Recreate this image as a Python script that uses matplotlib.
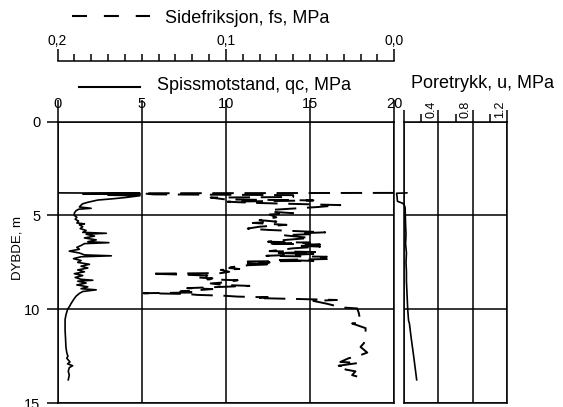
import matplotlib
matplotlib.use("Agg")
import matplotlib.pyplot as plt
import matplotlib.transforms as mtransforms
from matplotlib.lines import Line2D
from matplotlib.ticker import FixedLocator, MultipleLocator, FuncFormatter

plt.rcParams['font.family'] = ['Liberation Sans', 'DejaVu Sans']

# ---------------- data ----------------
qc_depth = [3.80, 3.82, 3.85, 3.88, 3.92, 3.95, 4.05, 4.12, 4.18, 4.22, 4.30, 4.38, 4.45,
            4.55, 4.62, 4.67, 4.75, 4.87,
            5.0, 5.1, 5.2, 5.3, 5.4, 5.45, 5.5, 5.6, 5.7, 5.8, 5.9, 5.95, 6.0, 6.1, 6.2,
            6.3, 6.4, 6.45, 6.5, 6.6, 6.7, 6.8, 6.9, 7.0, 7.1, 7.15, 7.2, 7.3, 7.4, 7.5,
            7.6, 7.7, 7.8, 7.9, 8.0, 8.1, 8.2, 8.3, 8.4, 8.45, 8.5, 8.6, 8.7, 8.8, 8.9,
            8.96, 9.05, 9.15, 9.3,
            9.50, 9.70, 9.80, 10.0, 10.3, 10.55, 11.1, 11.6, 12.0, 12.3, 12.5, 12.6, 12.8,
            12.9, 13.0, 13.1, 13.3, 13.5, 13.75]
qc_value = [0.0, 4.9, 1.5, 4.9, 3.0, 4.9, 4.0, 3.2, 2.4, 2.2, 1.8, 1.5, 1.4,
            1.3, 2.0, 1.25, 1.1, 1.0,
            1.0, 1.15, 1.05, 1.25, 1.15, 1.6, 1.3, 1.5, 1.35, 1.7, 1.5, 2.9, 1.7, 2.2, 1.6,
            2.3, 1.8, 3.05, 1.6, 1.4, 1.15, 1.3, 0.7, 1.3, 1.6, 3.2, 1.4, 0.95, 1.4, 1.2,
            1.9, 1.4, 1.8, 1.2, 1.6, 1.0, 1.5, 1.05, 1.4, 2.1, 1.2, 1.7, 1.15, 1.8, 1.4,
            2.3, 1.5, 1.3, 1.1,
            0.94, 0.8, 0.74, 0.6, 0.5, 0.45, 0.45, 0.48, 0.5, 0.55, 0.62, 0.55, 0.74,
            0.6, 0.9, 0.7, 0.64, 0.7, 0.64]

fs_depth = [3.80, 3.82, 3.88, 3.92, 4.02, 4.05, 4.15, 4.20, 4.27, 4.33, 4.45, 4.55, 4.70,
            4.80, 4.88, 4.95, 5.10, 5.25, 5.33, 5.40, 5.50, 5.60, 5.70, 5.77, 5.90, 5.95,
            6.00, 6.05, 6.20, 6.30, 6.40, 6.45, 6.50, 6.55, 6.62, 6.66, 6.75, 6.90, 6.95,
            7.00, 7.05, 7.15, 7.20, 7.27, 7.32, 7.37, 7.42, 7.45, 7.50, 7.55, 7.60, 7.65,
            7.70, 7.75, 7.80, 7.85, 7.90, 8.00, 8.07, 8.10, 8.16, 8.20, 8.30, 8.35, 8.40,
            8.45, 8.57, 8.62, 8.70, 8.75, 8.87, 8.92, 9.05, 9.10, 9.14, 9.18, 9.23, 9.27,
            9.32, 9.36, 9.40, 9.45, 9.50, 9.55, 9.70, 9.90, 9.95, 10.2, 10.7, 10.75, 11.0,
            11.45, 11.8, 12.0, 12.3, 12.5, 12.6, 12.8, 12.85, 13.0, 13.05, 13.2, 13.3,
            13.5, 13.65, 13.7]
fs_value = [0.0, 0.150, 0.143, 0.060, 0.060, 0.109, 0.100, 0.048, 0.099, 0.084, 0.032, 0.045, 0.072,
            0.074, 0.060, 0.074, 0.070, 0.080, 0.070, 0.084, 0.064, 0.080, 0.087, 0.075, 0.041, 0.056,
            0.050, 0.066, 0.050, 0.064, 0.075, 0.050, 0.076, 0.044, 0.055, 0.044, 0.060, 0.074, 0.046,
            0.070, 0.048, 0.076, 0.040, 0.046, 0.040, 0.068, 0.048, 0.087, 0.074, 0.087, 0.072, 0.087,
            0.090, 0.097, 0.098, 0.092, 0.103, 0.098, 0.103, 0.145, 0.123, 0.111, 0.117, 0.108, 0.111,
            0.093, 0.102, 0.109, 0.102, 0.086, 0.123, 0.108, 0.127, 0.117, 0.149, 0.123, 0.117, 0.102,
            0.093, 0.075, 0.082, 0.056, 0.034, 0.048, 0.040, 0.031, 0.022, 0.021, 0.020, 0.025, 0.017,
            0.017, 0.018, 0.020, 0.016, 0.022, 0.027, 0.032, 0.021, 0.033, 0.027, 0.029, 0.023,
            0.025, 0.019, 0.022]

u_depth = [3.80, 3.82, 4.00, 4.25, 4.35, 4.45, 4.60, 5.0, 5.5, 6.0, 6.5, 7.0, 7.5, 8.0,
           8.5, 9.0, 9.5, 10.0, 10.6, 10.75, 11.5, 12.5, 13.75]
u_value = [0.03, -0.09, -0.085, -0.08, -0.02, 0.0, 0.01, 0.012, 0.015, 0.02, 0.015, 0.025,
           0.02, 0.025, 0.025, 0.03, 0.035, 0.04, 0.05, 0.06, 0.08, 0.11, 0.145]

qc_ticks = [0, 5, 10, 15, 20]
fs_ticks = [0.2, 0.1, 0.0]
u_ticks = [0.0, 0.4, 0.8, 1.2]
u_minor = [0.2, 0.6, 1.0]
u_labels = ['0.4', '0.8', '1.2']
depth_ticks = [0, 5, 10, 15]

# ---------------- layout ----------------
W, H = 563, 407
fig = plt.figure(figsize=(W / 100, H / 100), dpi=100)
fig.patch.set_facecolor('white')


def fx(x):
    return x / W


def fy(y):
    return 1 - y / H


L, R, T, B = 57.5, 394.2, 121.5, 403.3
LW = 1.1
ax = fig.add_axes([fx(L), fy(B), fx(R) - fx(L), fy(T) - fy(B)])
axf = ax.twiny()

ax.set_xlim(0, 20)
ax.set_ylim(15, 0)
ax.set_xticks(qc_ticks)
ax.set_yticks(depth_ticks)
ax.xaxis.set_ticks_position('top')
ax.tick_params(axis='x', which='major', direction='out', top=True, bottom=False,
               labeltop=True, labelbottom=False, length=15.5, width=LW, pad=-7.6,
               labelsize=10.5)
ax.tick_params(axis='y', direction='out', length=8, width=LW, pad=4.4, labelsize=10.5)
ax.grid(True, color='black', lw=LW)
for s in ax.spines.values():
    s.set_linewidth(LW)
ax.plot(qc_value, qc_depth, color='black', lw=1.2)

# fs axis (reversed, above)
axf.set_xlim(0.2, 0.0)
for s in ['bottom', 'left', 'right']:
    axf.spines[s].set_visible(False)
axf.spines['top'].set_position(('outward', (T - 60.7) * 0.72))
axf.spines['top'].set_linewidth(LW)
axf.xaxis.set_major_locator(FixedLocator(fs_ticks))
axf.xaxis.set_minor_locator(MultipleLocator(0.01))
axf.xaxis.set_major_formatter(FuncFormatter(lambda v, p: f"{v:.1f}".replace('.', ',')))
axf.tick_params(axis='x', which='major', direction='out', length=9, width=LW, pad=0.2,
                labelsize=10)
axf.tick_params(axis='x', which='minor', direction='out', length=5, width=LW)
axf.plot(fs_value, fs_depth, color='black', lw=1.4, linestyle=(0, (11, 5.5)))

# pore pressure panel
UL, UR = 404.3, 506.7
axu = fig.add_axes([fx(UL), fy(B), fx(UR) - fx(UL), fy(T) - fy(B)], sharey=ax)
axu.set_xlim(0, 1.2)
axu.xaxis.set_major_locator(FixedLocator(u_ticks))
axu.xaxis.set_minor_locator(FixedLocator(u_minor))
axu.xaxis.set_ticks_position('top')
axu.tick_params(axis='x', which='major', direction='out', length=8.6, width=LW,
                labeltop=False, labelbottom=False, bottom=False)
axu.tick_params(axis='x', which='minor', direction='out', length=5.8, width=LW, bottom=False)
axu.tick_params(axis='y', left=False, labelleft=False)
axu.grid(True, color='black', lw=LW)
for s in axu.spines.values():
    s.set_linewidth(LW)
axu.plot(u_value, u_depth, color='black', lw=1.2, clip_on=False)
for v, s in zip(u_ticks[1:], u_labels):
    tr = mtransforms.offset_copy(axu.get_xaxis_transform(), fig=fig, x=-0.6, y=3.0,
                                 units='dots')
    axu.text(v, 1.0, s, transform=tr, rotation=90, ha='right', va='bottom', fontsize=9)

# legend texts and keys
fig.add_artist(Line2D([fx(71.7), fx(150)], [fy(15.7), fy(15.7)], transform=fig.transFigure,
                      color='black', lw=1.5, linestyle=(0, (7.2, 8.1))))
fig.text(fx(165), fy(18.3), 'Sidefriksjon, fs, MPa', fontsize=13, ha='left', va='center')
fig.add_artist(Line2D([fx(79), fx(140)], [fy(86.7), fy(86.7)], transform=fig.transFigure,
                      color='black', lw=1.5))
fig.text(fx(156.7), fy(85), 'Spissmotstand, qc, MPa', fontsize=13, ha='left', va='center')
fig.text(fx(410.7), fy(84), 'Poretrykk, u, MPa', fontsize=13, ha='left', va='center')

fig.text(fx(17.5), fy(248), 'DYBDE, m', rotation=90, ha='center', va='center', fontsize=9.5)

fig.savefig('out.png', dpi=100, facecolor='white')
